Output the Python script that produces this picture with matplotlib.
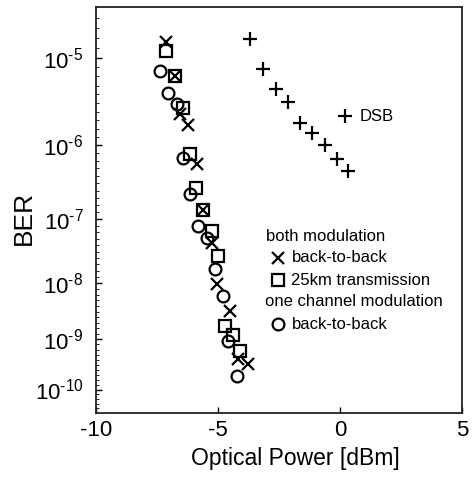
import numpy as np
import matplotlib
matplotlib.use("Agg")
import matplotlib.pyplot as plt

plt.rcParams['font.family'] = ['Liberation Sans', 'DejaVu Sans']
plt.rcParams['mathtext.fontset'] = 'custom'
plt.rcParams['mathtext.rm'] = 'Liberation Sans'
plt.rcParams['mathtext.it'] = 'Liberation Sans'

# optical power [dBm] and BER exponent n (BER = 10^-n)
both_b2b_x = [-7.13, -6.76, -6.56, -6.22, -5.87, -5.60, -5.26, -5.05, -4.51, -4.17, -3.76]
both_b2b_n = [4.84, 5.20, 5.63, 5.75, 6.25, 6.87, 7.36, 8.03, 8.49, 9.39, 9.49]

both_25km_x = [-7.13, -6.76, -6.42, -6.15, -5.90, -5.60, -5.26, -4.99, -4.71, -4.37, -4.10]
both_25km_n = [4.93, 5.20, 5.55, 6.12, 6.56, 6.87, 7.18, 7.57, 8.76, 8.92, 9.23]

one_b2b_x = [-7.38, -7.04, -6.69, -6.42, -6.15, -5.81, -5.46, -5.12, -4.81, -4.58, -4.23]
one_b2b_n = [5.14, 5.38, 5.51, 6.16, 6.65, 7.11, 7.28, 7.78, 8.23, 9.04, 9.73]

dsb_x = [-3.69, -3.17, -2.64, -2.14, -1.64, -1.14, -0.62, -0.11, 0.32]
dsb_n = [4.81, 5.12, 5.34, 5.49, 5.73, 5.85, 6.00, 6.18, 6.33]

major_exps = [5, 6, 7, 8, 9, 10]


def fwd(y):
    y = np.clip(np.asarray(y, dtype=float), 1e-300, 1 - 1e-12)
    return -np.log10(-np.log10(y))


def inv(f):
    return 10.0 ** (-(10.0 ** (-np.asarray(f, dtype=float))))


def ber(n):
    return 10.0 ** (-np.array(n))


fig = plt.figure(figsize=(4.73, 4.79), dpi=100)
ax = fig.add_axes([0.203, 0.138, 0.774, 0.847])
ax.set_yscale('function', functions=(fwd, inv))

mk = dict(linestyle='none', color='black', markerfacecolor='none', markeredgewidth=1.6)
ax.plot(both_b2b_x, ber(both_b2b_n), marker='x', markersize=9, **mk)
ax.plot(both_25km_x, ber(both_25km_n), marker='s', markersize=8, **mk)
ax.plot(one_b2b_x, ber(one_b2b_n), marker='o', markersize=8.5, **mk)
ax.plot(dsb_x, ber(dsb_n), marker='+', markersize=10, **mk)

ax.set_xlim(-10, 5)
ax.set_ylim(10 ** -10.5, 10 ** -4.5)
ax.set_xticks([-10, -5, 0, 5])
ax.set_xticklabels(['-10', '-5', '0', '5'])
ax.set_yticks([10.0 ** -e for e in major_exps])
ax.set_yticklabels(['$10^{\u2010%d}$' % e for e in major_exps])
minor = [10.0 ** -(e + k / 10) for e in range(4, 11) for k in range(1, 10)]
ax.set_yticks([m for m in minor if 10 ** -10.5 < m < 10 ** -4.5], minor=True)
ax.set_xticks([], minor=True)

ax.tick_params(which='major', direction='in', length=4, width=1)
ax.tick_params(axis='x', labelsize=16, pad=5)
ax.tick_params(axis='y', labelsize=16, pad=9)
ax.tick_params(which='minor', direction='in', length=2, width=0.6)
for s in ax.spines.values():
    s.set_linewidth(1.3)
    s.set_color('#222222')

ax.set_xlabel('Optical Power [dBm]', fontsize=16.5)
ax.xaxis.set_label_coords(0.544, -0.083)
ax.set_ylabel('BER', fontsize=19)
ax.yaxis.set_label_coords(-0.165, 0.48)

# legend drawn as text
tr = ax.transAxes
ax.plot([0.680], [0.731], marker='+', markersize=10, transform=tr, **mk)
ax.text(0.721, 0.731, 'DSB', transform=tr, fontsize=12, va='center', ha='left')
ax.text(0.628, 0.434, 'both modulation', transform=tr, fontsize=12, va='center', ha='center')
ax.plot([0.498], [0.382], marker='x', markersize=9, transform=tr, **mk)
ax.text(0.535, 0.382, 'back-to-back', transform=tr, fontsize=12, va='center', ha='left')
ax.plot([0.498], [0.327], marker='s', markersize=8, transform=tr, **mk)
ax.text(0.532, 0.327, '25km transmission', transform=tr, fontsize=12, va='center', ha='left')
ax.text(0.703, 0.274, 'one channel modulation', transform=tr, fontsize=12, va='center', ha='center')
ax.plot([0.498], [0.218], marker='o', markersize=8.5, transform=tr, **mk)
ax.text(0.535, 0.218, 'back-to-back', transform=tr, fontsize=12, va='center', ha='left')

fig.savefig('out.png', dpi=100)
